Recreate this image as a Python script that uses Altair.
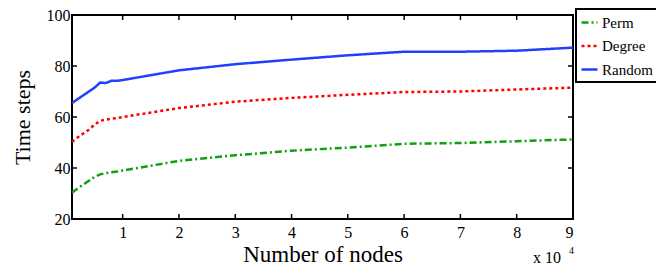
import altair as alt
import pandas as pd

nodes = [1000, 2000, 3000, 4000, 5000, 6000, 7000, 8000, 9000, 10000,
         20000, 30000, 40000, 50000, 60000, 70000, 80000, 90000]
perm = [30.3, 32.0, 33.5, 35.0, 36.5, 37.5, 38.0, 38.3, 38.6, 39.0,
        42.8, 45.0, 46.8, 48.0, 49.5, 49.8, 50.5, 51.2]
degree = [50.3, 52.0, 53.5, 55.0, 57.0, 58.5, 59.0, 59.3, 59.6, 60.0,
          63.5, 66.0, 67.5, 68.7, 69.8, 70.0, 70.8, 71.5]
random_ = [65.5, 67.0, 68.5, 70.0, 71.5, 73.5, 73.3, 74.2, 74.2, 74.5,
           78.3, 80.7, 82.5, 84.2, 85.6, 85.6, 86.0, 87.2]
series = ["Perm", "Degree", "Random"]
colors = ["#11a011", "#ff0000", "#2040ff"]
dashes = [[7, 3, 2, 3], [3, 3], [1, 0]]
x_ticks = [10000, 20000, 30000, 40000, 50000, 60000, 70000, 80000, 90000]
y_ticks = [20, 40, 60, 80, 100]

rows = []
for name, vals in zip(series, [perm, degree, random_]):
    for n, v in zip(nodes, vals):
        rows.append({"x": n, "y": v, "series": name})
df = pd.DataFrame(rows)

W, H = 501, 204
FONT = "Liberation Serif"

xscale = alt.Scale(domain=[1000, 90000], nice=False, zero=False)
yscale = alt.Scale(domain=[20, 100], nice=False, zero=False)

x_axis = alt.Axis(values=x_ticks, labelExpr="datum.value / 10000",
                  ticks=False, domain=False, grid=False,
                  title="Number of nodes", titleFontSize=23,
                  titleFont=FONT, titleFontWeight="normal",
                  titleColor="black", titlePadding=3,
                  labelFont=FONT, labelFontSize=16, labelColor="black",
                  labelPadding=5)
y_axis = alt.Axis(values=y_ticks, ticks=False, domain=False, grid=False,
                  title="Time steps", titleFontSize=22,
                  titleFont=FONT, titleFontWeight="normal",
                  titleColor="black", titlePadding=12,
                  labelFont=FONT, labelFontSize=16, labelColor="black",
                  labelPadding=2)

lines = alt.Chart(df).mark_line(strokeWidth=2.5).encode(
    x=alt.X("x:Q", scale=xscale, axis=x_axis),
    y=alt.Y("y:Q", scale=yscale, axis=y_axis),
    color=alt.Color("series:N", scale=alt.Scale(domain=series, range=colors),
                    legend=alt.Legend(title=None, orient="none", legendX=504,
                                      legendY=-6, padding=4, rowPadding=5.5,
                                      strokeColor="black", fillColor="white",
                                      symbolType="stroke", symbolSize=256,
                                      symbolStrokeWidth=2.5, labelFont=FONT,
                                      labelFontSize=15, labelColor="black",
                                      labelOffset=3)),
    strokeDash=alt.StrokeDash("series:N",
                              scale=alt.Scale(domain=series, range=dashes),
                              legend=alt.Legend(title=None, orient="none",
                                                legendX=504, legendY=-6)),
    order=alt.Order("x:Q"),
)

xt = pd.DataFrame({"x": x_ticks})
yt = pd.DataFrame({"y": y_ticks})
tick_style = dict(color="black", strokeWidth=1.5)

xb = alt.Chart(xt).mark_rule(**tick_style).encode(
    x=alt.X("x:Q", scale=xscale), y=alt.value(H), y2=alt.value(H - 5))
xtp = alt.Chart(xt).mark_rule(**tick_style).encode(
    x=alt.X("x:Q", scale=xscale), y=alt.value(0), y2=alt.value(5))
yl = alt.Chart(yt).mark_rule(**tick_style).encode(
    y=alt.Y("y:Q", scale=yscale), x=alt.value(0), x2=alt.value(5))
yr = alt.Chart(yt).mark_rule(**tick_style).encode(
    y=alt.Y("y:Q", scale=yscale), x=alt.value(W), x2=alt.value(W - 5))

exp_base = alt.Chart(pd.DataFrame({"t": ["x 10"]})).mark_text(
    font=FONT, fontSize=16, align="left", baseline="alphabetic", color="black"
).encode(text="t:N", x=alt.value(461), y=alt.value(248))
exp_sup = alt.Chart(pd.DataFrame({"t": ["4"]})).mark_text(
    font=FONT, fontSize=10, align="left", baseline="alphabetic", color="black"
).encode(text="t:N", x=alt.value(497), y=alt.value(239))

chart = alt.layer(lines, xb, xtp, yl, yr, exp_base, exp_sup).properties(
    width=W, height=H,
    padding={"left": 64, "top": 7, "right": 83, "bottom": 46},
    autosize=alt.AutoSizeParams(type="none"),
).configure_view(stroke="black", strokeWidth=2).configure_legend(
    strokeWidth=2, cornerRadius=0
)

chart.save("out.html", embed_options={"renderer": "svg", "actions": False})
